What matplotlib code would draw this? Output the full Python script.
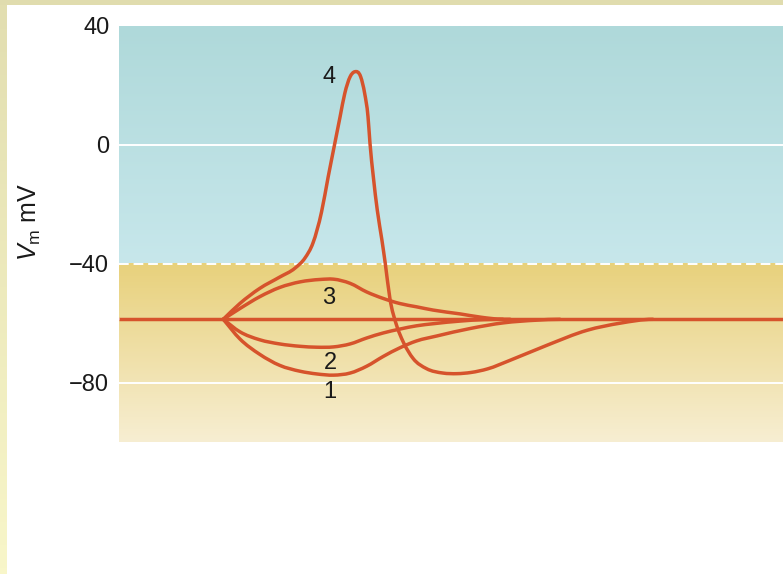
import numpy as np
import matplotlib
matplotlib.use("Agg")
import matplotlib.pyplot as plt
from matplotlib.colors import LinearSegmentedColormap
from matplotlib.path import Path
from matplotlib.patches import PathPatch

plt.rcParams['font.family'] = ['Liberation Sans', 'DejaVu Sans']
plt.rcParams['mathtext.fontset'] = 'custom'
plt.rcParams['mathtext.rm'] = 'Liberation Sans'
plt.rcParams['mathtext.it'] = 'Liberation Sans:italic'

# ---- data (time in arbitrary units 0..100, membrane potential in mV) ----
REST = -58.7
yticks = [40, 0, -40, -80]
ytick_labels = ["40", "0", "\u221240", "\u221280"]

t4 = [15.7, 18.2, 21.2, 24.2, 26.5, 28.0, 29.2, 30.5, 31.5, 32.5, 33.3, 34.0, 34.8,
      35.5, 36.4, 37.0, 37.5, 37.8, 38.3, 38.9, 39.6, 40.1, 40.8, 41.8, 42.8, 44.3, 46.3,
      48.8, 50.9, 53.0, 55.5, 58.9, 64.5, 70.5, 75.5, 80.4]
v4 = [-58.7, -53.4, -48.3, -44.5, -41.5, -38.1, -33.1, -22.6, -10.8, 0.5, 9.5, 17.3, 22.9,
      24.6, 22.9, 17.3, 9.5, 0.5, -10.7, -22.0, -32.1, -39.9, -51.7, -60.7, -66.3, -71.9, -75.3,
      -76.8, -77.0, -76.6, -75.4, -72.5, -67.4, -62.4, -60.0, -58.7]

t3 = [15.7, 18.2, 21.2, 24.2, 27.3, 30.3, 32.3, 34.8, 37.3, 39.8, 42.3, 44.8, 47.3, 51.4, 54.5, 57.8]
v3 = [-58.7, -55.1, -51.1, -48.0, -46.1, -45.3, -45.2, -46.6, -49.5, -51.7, -53.4, -54.5, -55.6,
      -56.9, -58.0, -58.7]

t2 = [15.7, 18.2, 21.2, 24.2, 27.3, 29.8, 32.3, 34.8, 37.3, 39.8, 42.3, 44.8, 47.3, 51.4, 55.0, 58.9]
v2 = [-58.7, -62.9, -65.6, -67.0, -67.8, -68.1, -68.0, -67.0, -65.0, -63.3, -62.0, -60.9, -60.2,
      -59.3, -58.8, -58.7]

t1 = [15.7, 18.2, 21.2, 24.2, 27.3, 29.8, 32.3, 34.8, 37.3, 39.8, 42.3, 44.8, 47.9, 52.9, 57.9,
      62.9, 66.4]
v1 = [-58.7, -65.3, -70.5, -74.2, -76.2, -77.1, -77.5, -76.8, -74.5, -71.2, -68.3, -66.0, -64.3,
      -61.8, -59.9, -59.0, -58.7]

labels = ["4", "3", "2", "1"]
label_t = [31.7, 31.6, 31.8, 31.7]
label_v = [22.7, -51.4, -73.3, -83.1]

XMIN, XMAX = 0, 100
YMIN, YMAX = -100, 40
THRESH = -40

ORANGE = "#d6532c"
LW = 2.5


def smooth_path(ts, vs):
    """Cubic Hermite (as Bezier) path through the read points; flat at the end."""
    t = np.asarray(ts, float)
    v = np.asarray(vs, float)
    h = np.diff(t)
    d = np.diff(v) / h
    m = np.empty_like(v)
    m[0] = d[0]
    m[-1] = 0.0
    for i in range(1, len(v) - 1):
        m[i] = (h[i - 1] * d[i] + h[i] * d[i - 1]) / (h[i - 1] + h[i])
    verts = [(t[0], v[0])]
    codes = [Path.MOVETO]
    for i in range(len(v) - 1):
        verts += [(t[i] + h[i] / 3, v[i] + m[i] * h[i] / 3),
                  (t[i + 1] - h[i] / 3, v[i + 1] - m[i + 1] * h[i] / 3),
                  (t[i + 1], v[i + 1])]
        codes += [Path.CURVE4] * 3
    return Path(np.array(verts), codes)


fig = plt.figure(figsize=(7.83, 5.74), dpi=100)
fig.patch.set_facecolor("white")

# decorative border strips
bl = fig.add_axes([0, 0, 7 / 783, 1])
bl.imshow(np.linspace(0, 1, 100).reshape(-1, 1), aspect='auto',
          cmap=LinearSegmentedColormap.from_list('b', ["#e2deb0", "#f8f6c9"]),
          extent=[0, 1, 1, 0])
bl.axis('off')
bt = fig.add_axes([0, 1 - 5 / 574, 1, 5 / 574])
bt.set_facecolor("#e0dcae")
bt.set_xticks([]); bt.set_yticks([])
for s in bt.spines.values():
    s.set_visible(False)

ax = fig.add_axes([119 / 783, 1 - 442 / 574, 1 - 119 / 783, 416 / 574])
ax.set_xlim(XMIN, XMAX)
ax.set_ylim(YMIN, YMAX)

teal = LinearSegmentedColormap.from_list('teal', ["#afd9da", "#c7e7eb"])
yel = LinearSegmentedColormap.from_list('yel', ["#e8d17c", "#f7eed2"])
ax.imshow(np.linspace(0, 1, 200).reshape(-1, 1), aspect='auto', cmap=teal,
          extent=[XMIN, XMAX, THRESH, YMAX], origin='upper', zorder=0)
ax.imshow(np.linspace(0, 1, 200).reshape(-1, 1), aspect='auto', cmap=yel,
          extent=[XMIN, XMAX, YMIN, THRESH], origin='upper', zorder=0)

for yv in [0, -80, REST]:
    ax.axhline(yv, color="white", lw=1.4, zorder=1)
ax.axhline(THRESH, color="white", lw=1.4, ls=(0, (5, 2.5)), zorder=1)

ax.plot([XMIN, XMAX], [REST, REST], color=ORANGE, lw=LW, zorder=3, solid_capstyle='butt')
for tt, vv in [(t1, v1), (t2, v2), (t3, v3), (t4, v4)]:
    ax.add_patch(PathPatch(smooth_path(tt, vv), facecolor='none', edgecolor=ORANGE,
                           lw=LW, zorder=3, joinstyle='round', capstyle='round'))

for lab, lt, lv in zip(labels, label_t, label_v):
    ax.text(lt, lv, lab, ha='center', va='center', fontsize=17, color="#1a1a1a", zorder=4)

ax.set_xticks([])
ax.set_yticks(yticks)
ax.set_yticklabels(ytick_labels, fontsize=17, color="#1a1a1a")
ax.tick_params(axis='y', length=0, pad=7)
for s in ax.spines.values():
    s.set_visible(False)

fig.text(30 / 783, 1 - 222 / 574, r"$V_{\mathrm{m}}$ mV", rotation=90, ha='center', va='center',
         fontsize=18, color="#1a1a1a")

fig.savefig("out.png", dpi=100)
